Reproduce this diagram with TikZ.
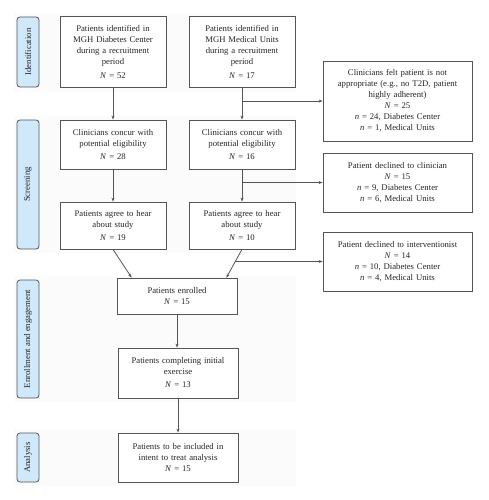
\documentclass[tikz,border=0pt]{standalone}
\usepackage{fontspec}
\setmainfont{Liberation Serif}
\usetikzlibrary{arrows.meta,calc}
\definecolor{tabblue}{HTML}{CFE8FA}
\definecolor{lncol}{HTML}{555555}
\definecolor{bandcol}{HTML}{FBFBFB}
\newcommand{\NN}{\textit{N}}
\newcommand{\nn}{\textit{n}}
\begin{document}
\begin{tikzpicture}[x=1pt,y=-1pt,
  every node/.style={font=\fontsize{8.7}{11}\selectfont, text=black!85},
  box/.style={draw=lncol, line width=0.8pt, fill=white, rectangle, align=center, inner sep=1pt},
  tab/.style={draw=lncol, line width=0.8pt, fill=tabblue, rounded corners=3pt, rotate=90, inner sep=0pt, align=center},
  conn/.style={draw=lncol, line width=0.8pt},
  arr/.style={conn, -{Stealth[length=4pt,width=3pt]}},
  band/.style={fill=bandcol, draw=none}]
\useasboundingbox (0,0) rectangle (489,500);
\fill[white] (0,0) rectangle (489,500);
% faint stage bands
\path[band] (14,13) rectangle (296,92);
\path[band] (14,116) rectangle (296,253);
\path[band] (14,276) rectangle (296,402);
\path[band] (14,429) rectangle (296,486);
% stage tabs
\node[tab, minimum width=70pt, minimum height=22pt] (t1) at (28,52) {Identification};
\node[tab, minimum width=129pt, minimum height=22pt] (t2) at (28,184.5) {Screening};
\node[tab, minimum width=118pt, minimum height=22pt] (t3) at (28,339) {Enrollment and engagement};
\node[tab, minimum width=49pt, minimum height=22pt] (t4) at (28,457.5) {Analysis};
% main boxes
\node[box, minimum width=106pt, minimum height=71pt, text width=100pt] (b1) at (113,51.5)
  {Patients identified in\\ MGH Diabetes Center\\ during a recruitment\\ period\\[3pt] \NN{} = 52};
\node[box, minimum width=106pt, minimum height=71pt, text width=100pt] (b2) at (242,51.5)
  {Patients identified in\\ MGH Medical Units\\ during a recruitment\\ period\\[3pt] \NN{} = 17};
\node[box, minimum width=106pt, minimum height=49pt, text width=100pt] (b3) at (113,144.5)
  {Clinicians concur with\\ potential eligibility\\[2pt] \NN{} = 28};
\node[box, minimum width=106pt, minimum height=49pt, text width=100pt] (b4) at (242,144.5)
  {Clinicians concur with\\ potential eligibility\\[2pt] \NN{} = 16};
\node[box, minimum width=106pt, minimum height=47pt, text width=100pt] (b5) at (113,225.5)
  {Patients agree to hear\\ about study\\[2pt] \NN{} = 19};
\node[box, minimum width=106pt, minimum height=47pt, text width=100pt] (b6) at (242,225.5)
  {Patients agree to hear\\ about study\\[2pt] \NN{} = 10};
% right boxes
\node[box, minimum width=149pt, minimum height=80pt, text width=143pt] (r1) at (397.5,101)
  {Clinicians felt patient is not\\ appropriate (e.g., no T2D, patient\\ highly adherent)\\ \NN{} = 25\\ \nn{} = 24, Diabetes Center\\ \nn{} = 1, Medical Units};
\node[box, minimum width=149pt, minimum height=59pt, text width=143pt] (r2) at (397.5,182.5)
  {Patient declined to clinician\\ \NN{} = 15\\ \nn{} = 9, Diabetes Center\\ \nn{} = 6, Medical Units};
\node[box, minimum width=149pt, minimum height=59pt, text width=143pt] (r3) at (397.5,261.5)
  {Patient declined to interventionist\\ \NN{} = 14\\ \nn{} = 10, Diabetes Center\\ \nn{} = 4, Medical Units};
% lower boxes
\node[box, minimum width=120pt, minimum height=36pt, text width=114pt] (e1) at (177,296)
  {Patients enrolled\\ \NN{} = 15};
\node[box, minimum width=120pt, minimum height=50pt, text width=114pt] (e2) at (178,373)
  {Patients completing initial\\ exercise\\[2pt] \NN{} = 13};
\node[box, minimum width=120pt, minimum height=49pt, text width=114pt] (e3) at (178,457.5)
  {Patients to be included in\\ intent to treat analysis\\ \NN{} = 15};
% connectors
\draw[arr] (b1.south) -- (b3.north);
\draw[arr] (b2.south) -- (b4.north);
\draw[arr] (b3.south) -- (b5.north);
\draw[arr] (b4.south) -- (b6.north);
\coordinate (eL) at ($(e1.north west)+(15,0)$);
\coordinate (eR) at ($(e1.north east)+(-11,0)$);
\draw[arr] (b5.south) -- (eL);
\draw[arr] (b6.south) -- (eR);
\draw[arr] (b2.south |- r1.west) -- (r1.west);
\draw[arr] (b4.south |- r2.west) -- (r2.west);
\coordinate (bp) at ($(b6.south)!0.43!(eR)$);
\draw[arr] (bp) -- (r3.west |- bp);
\draw[arr] (e1.south) -- (e1.south |- e2.north);
\draw[arr] (e2.south) -- (e3.north);
\end{tikzpicture}
\end{document}
